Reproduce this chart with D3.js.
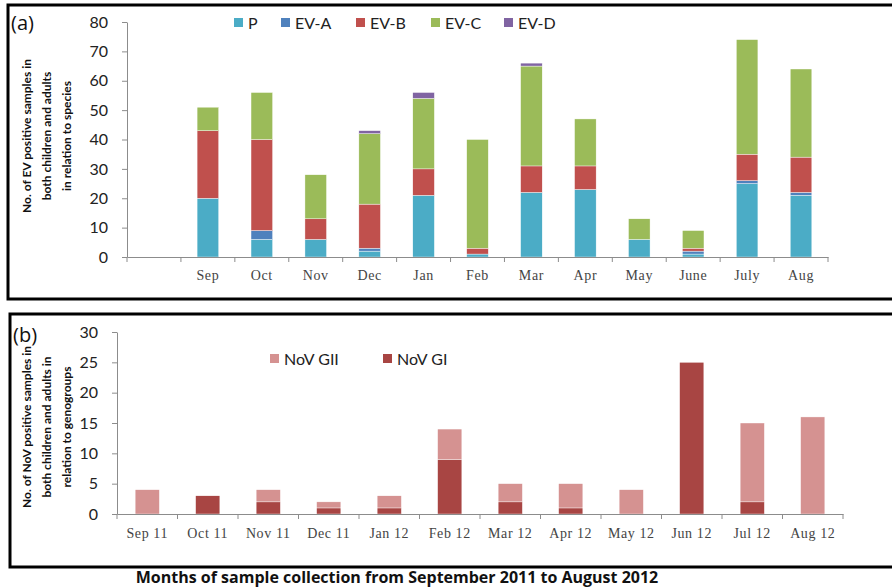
<!DOCTYPE html>
<html>
<head>
<meta charset="utf-8">
<script src="https://cdn.jsdelivr.net/npm/d3@7"></script>
<style>
  body { margin: 0; background: #fff; }
  svg { display: block; }
</style>
</head>
<body>
<svg width="892" height="587"></svg>
<script>
// panel (a): EV species per month
const evMonths = ['', 'Sep', 'Oct', 'Nov', 'Dec', 'Jan', 'Feb', 'Mar', 'Apr', 'May', 'June', 'July', 'Aug'];
const evP   = [0, 20, 6, 6, 2, 21, 1, 22, 23, 6, 1, 25, 21];
const evA   = [0, 0, 3, 0, 1, 0, 0, 0, 0, 0, 1, 1, 1];
const evB   = [0, 23, 31, 7, 15, 9, 2, 9, 8, 0, 1, 9, 12];
const evC   = [0, 8, 16, 15, 24, 24, 37, 34, 16, 7, 6, 39, 30];
const evD   = [0, 0, 0, 0, 1, 2, 0, 1, 0, 0, 0, 0, 0];
const evTicks = [0, 10, 20, 30, 40, 50, 60, 70, 80];

// panel (b): NoV genogroups per month
const novMonths = ['Sep 11', 'Oct 11', 'Nov 11', 'Dec 11', 'Jan 12', 'Feb 12', 'Mar 12', 'Apr 12', 'May 12', 'Jun 12', 'Jul 12', 'Aug 12'];
const novGI  = [0, 3, 2, 1, 1, 9, 2, 1, 0, 25, 2, 0];
const novGII = [4, 0, 2, 1, 2, 5, 3, 4, 4, 0, 13, 16];
const novTicks = [0, 5, 10, 15, 20, 25, 30];

const sansFont = 'Lato, "Open Sans", sans-serif';
const serifFont = '"Liberation Serif", "DejaVu Serif", serif';
const axisColor = '#8c8c8c';

const svg = d3.select('svg');

// panel frames
function frame(x, y, w, h) {
  svg.append('rect')
    .attr('x', x).attr('y', y).attr('width', w).attr('height', h)
    .attr('fill', 'none').attr('stroke', '#000').attr('stroke-width', 3);
}
frame(8, 5, 900, 294);
frame(10, 314, 900, 253);

function styleAxis(g) {
  g.selectAll('path, line').attr('stroke', axisColor);
}

function drawPanel(opts) {
  const x = d3.scaleBand().domain(opts.cats)
    .range([opts.x0, opts.x1]).paddingInner(0.6).paddingOuter(0.3);
  const y = d3.scaleLinear().domain([0, d3.max(opts.ticks)])
    .range([opts.y0, opts.y1]);

  const rows = opts.cats.map((c, i) => {
    const r = { cat: c };
    opts.series.forEach(s => { r[s.key] = s.values[i]; });
    return r;
  });
  const stack = d3.stack().keys(opts.series.map(s => s.key))(rows);
  const color = d3.scaleOrdinal()
    .domain(opts.series.map(s => s.key))
    .range(opts.series.map(s => s.color));

  svg.append('g').selectAll('g')
    .data(stack).join('g')
    .attr('fill', d => color(d.key))
    .selectAll('rect')
    .data(d => d.filter(p => p[1] > p[0]))
    .join('rect')
    .attr('x', d => x(d.data.cat))
    .attr('width', x.bandwidth())
    .attr('y', d => y(d[1]))
    .attr('height', d => y(d[0]) - y(d[1]))
    .attr('stroke', '#fff').attr('stroke-width', 0.4);

  // y axis
  const ya = svg.append('g')
    .attr('transform', 'translate(' + opts.x0 + ',0)')
    .call(d3.axisLeft(y).tickValues(opts.ticks).tickSize(5).tickSizeOuter(0).tickPadding(14));
  styleAxis(ya);
  ya.selectAll('text')
    .attr('font-family', sansFont).attr('font-size', 16).attr('fill', '#222');

  // x axis, ticks at category boundaries
  const xa = svg.append('g')
    .attr('transform', 'translate(0,' + opts.y0 + ')')
    .call(d3.axisBottom(x).tickSize(0).tickSizeOuter(0).tickPadding(opts.labelPad));
  styleAxis(xa);
  xa.selectAll('text')
    .attr('font-family', serifFont).attr('font-size', 14).attr('fill', '#444')
    .attr('letter-spacing', 0.6);
  const bounds = d3.range(opts.cats.length + 1).map(i => opts.x0 + i * x.step());
  xa.selectAll('line.bound')
    .data(bounds).join('line').attr('class', 'bound')
    .attr('x1', d => d).attr('x2', d => d)
    .attr('y1', 0).attr('y2', 5)
    .attr('stroke', axisColor);

  // rotated axis title
  const t = svg.append('text')
    .attr('transform', 'translate(' + opts.titleX + ',' + opts.titleY + ') rotate(-90)')
    .attr('text-anchor', 'middle')
    .attr('font-family', sansFont)
    .attr('font-weight', 'bold').attr('font-size', 12).attr('fill', '#111');
  opts.title.forEach((line, i) => {
    t.append('tspan').attr('x', 0).attr('dy', i === 0 ? 0 : 20).text(line);
  });

  // panel letter
  svg.append('text')
    .attr('x', opts.letterX).attr('y', opts.letterY)
    .attr('font-family', '"Open Sans", sans-serif').attr('font-size', 20).attr('fill', '#111')
    .text(opts.letter);

  // legend
  const lg = svg.append('g').selectAll('g')
    .data(opts.legend).join('g')
    .attr('transform', d => 'translate(' + d.x + ',' + opts.legendY + ')');
  lg.append('rect')
    .attr('x', 0).attr('y', -5).attr('width', 9).attr('height', 9)
    .attr('fill', d => color(d.key));
  lg.append('text')
    .attr('x', 14).attr('y', 0).attr('dy', '0.36em')
    .attr('font-family', sansFont).attr('font-size', 16).attr('fill', '#222')
    .text(d => d.key);
}

drawPanel({
  cats: evMonths,
  x0: 127, x1: 828, y0: 257, y1: 22,
  ticks: evTicks,
  labelPad: 13,
  series: [
    { key: 'P', values: evP, color: '#4bacc6' },
    { key: 'EV-A', values: evA, color: '#4f81bd' },
    { key: 'EV-B', values: evB, color: '#c0504d' },
    { key: 'EV-C', values: evC, color: '#9bbb59' },
    { key: 'EV-D', values: evD, color: '#8064a2' },
  ],
  title: ['No. of EV positive samples in', 'both children and adults', 'in relation to species'],
  titleX: 31, titleY: 136,
  letter: '(a)', letterX: 11, letterY: 30,
  legendY: 23,
  legend: [
    { key: 'P', x: 234 }, { key: 'EV-A', x: 281 }, { key: 'EV-B', x: 356 },
    { key: 'EV-C', x: 431 }, { key: 'EV-D', x: 504 },
  ],
});

drawPanel({
  cats: novMonths,
  x0: 117, x1: 843, y0: 514, y1: 332,
  ticks: novTicks,
  labelPad: 14,
  series: [
    { key: 'NoV GI', values: novGI, color: '#a84543' },
    { key: 'NoV GII', values: novGII, color: '#d59291' },
  ],
  title: ['No. of NoV positive samples  in', 'both children and adults in', 'relation to genogroups'],
  titleX: 31, titleY: 427,
  letter: '(b)', letterX: 13, letterY: 342,
  legendY: 359,
  legend: [{ key: 'NoV GII', x: 270 }, { key: 'NoV GI', x: 383 }],
});

svg.append('text')
  .attr('x', 397).attr('y', 583)
  .attr('text-anchor', 'middle')
  .attr('font-family', '"Open Sans", sans-serif')
  .attr('font-weight', 'bold').attr('font-size', 16).attr('fill', '#111')
  .text('Months of sample collection from September 2011 to August 2012');
</script>
</body>
</html>
